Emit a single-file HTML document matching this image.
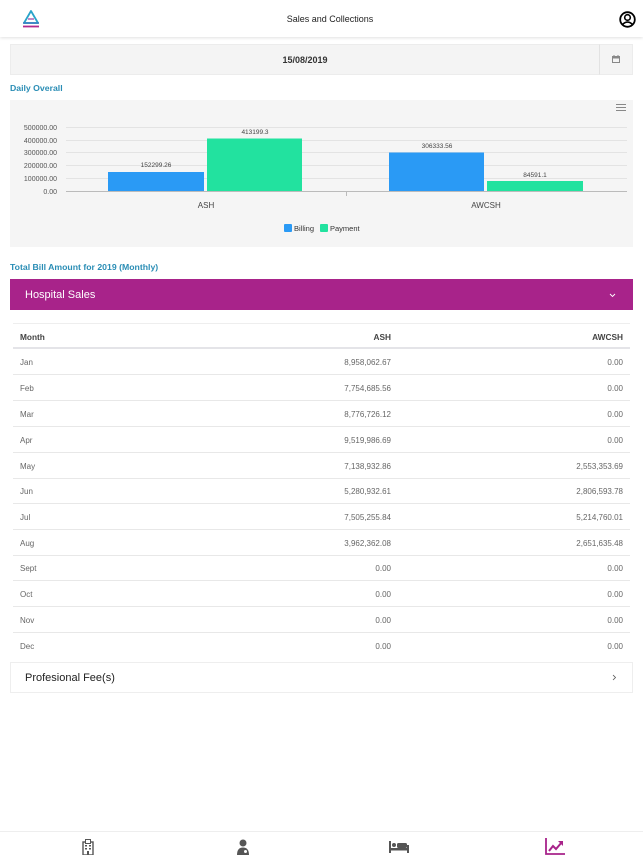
<!DOCTYPE html>
<html><head><meta charset="utf-8">
<style>
*{margin:0;padding:0;box-sizing:border-box}
body{width:643px;height:858px;background:#fff;font-family:"Liberation Sans",sans-serif;position:relative;overflow:hidden;color:#333}
.abs{position:absolute}
.header{left:0;top:0;width:643px;height:37px;background:#fff;box-shadow:0 1px 3px rgba(0,0,0,0.12)}
.title{left:0;width:660px;top:14px;text-align:center;font-size:9px;color:#222}
.datebar{left:10px;top:44px;width:623px;height:31px;background:#f4f4f4;border:1px solid #ececec}
.datetext{left:10px;width:590px;top:55px;text-align:center;font-size:9px;font-weight:bold;color:#333}
.calbtn{left:599px;top:44px;width:34px;height:31px;border-left:1px solid #e2e2e2;border-top:1px solid #ececec;border-right:1px solid #ececec;border-bottom:1px solid #ececec}
.sect{left:10px;font-size:8.7px;font-weight:bold;color:#2a8db5}
.chart{left:10px;top:100px;width:623px;height:147px;background:#f5f5f5}
.purple{left:10px;top:279px;width:623px;height:31px;background:#a8238a}
.purple span{position:absolute;left:15px;top:10px;color:#fff;font-size:11px}
.row{position:absolute;left:13px;width:617px;height:26px;border-bottom:1px solid #e8e8e8;font-size:8px;color:#666}
.row div{position:absolute;top:9px}
.c1{left:7px}
.c2{right:239px}
.c3{right:7px}
.hrow{font-weight:bold;color:#444;border-bottom:2px solid #e4e4e8;font-size:8.3px}
.fee{left:10px;top:662px;width:623px;height:31px;border:1px solid #eee;background:#fff}
.fee span{position:absolute;left:14px;top:9px;font-size:11px;color:#222}
.nav{left:0;top:831px;width:643px;height:27px;border-top:1px solid #eee}
</style></head><body>
<div class="abs header"></div>
<svg class="abs" style="left:20px;top:9px" width="22" height="20" viewBox="0 0 22 20">
<path d="M11 2 L18 14 L4 14 Z" fill="none" stroke="#2aa3c9" stroke-width="1.8" stroke-linejoin="round"/>
<line x1="3" y1="14" x2="19" y2="14" stroke="#3a7fc1" stroke-width="1.6"/>
<line x1="3" y1="17.5" x2="19" y2="17.5" stroke="#b02b8e" stroke-width="1.8"/>
<line x1="8" y1="10" x2="14" y2="10" stroke="#9b3aa0" stroke-width="1.2"/>
</svg>
<div class="abs title">Sales and Collections</div>
<svg class="abs" style="left:619px;top:11px" width="17" height="17" viewBox="0 0 17 17">
<circle cx="8.5" cy="8.5" r="7.3" fill="none" stroke="#000" stroke-width="1.8"/>
<circle cx="8.5" cy="6.5" r="2.8" fill="none" stroke="#000" stroke-width="1.6"/>
<path d="M3.5 13.5 Q8.5 8.5 13.5 13.5" fill="none" stroke="#000" stroke-width="1.6"/>
</svg>
<div class="abs datebar"></div>
<div class="abs datetext">15/08/2019</div>
<div class="abs calbtn"></div>
<svg class="abs" style="left:612px;top:55px" width="8" height="8" viewBox="0 0 8 8">
<rect x="0.5" y="1.5" width="7" height="6" fill="none" stroke="#888" stroke-width="1"/>
<rect x="0.5" y="1.5" width="7" height="2" fill="#888"/>
<line x1="2" y1="0" x2="2" y2="2" stroke="#888"/><line x1="6" y1="0" x2="6" y2="2" stroke="#888"/>
</svg>
<div class="abs sect" style="top:83px">Daily Overall</div>
<div class="abs chart"></div>
<svg class="abs" style="left:0;top:100px" width="643" height="147" viewBox="0 100 643 147" font-family="Liberation Sans, sans-serif">
<g stroke="#888" stroke-width="1"><line x1="616" y1="104.5" x2="626" y2="104.5"/><line x1="616" y1="107.5" x2="626" y2="107.5"/><line x1="616" y1="110.5" x2="626" y2="110.5"/></g>
<g stroke="#e3e3e3" stroke-width="1">
<line x1="66" y1="127.5" x2="627" y2="127.5"/>
<line x1="66" y1="140.5" x2="627" y2="140.5"/>
<line x1="66" y1="152.5" x2="627" y2="152.5"/>
<line x1="66" y1="165.5" x2="627" y2="165.5"/>
<line x1="66" y1="178.5" x2="627" y2="178.5"/>
</g>
<g font-size="7" fill="#555" text-anchor="end">
<text x="57" y="130">500000.00</text>
<text x="57" y="143">400000.00</text>
<text x="57" y="155">300000.00</text>
<text x="57" y="168">200000.00</text>
<text x="57" y="181">100000.00</text>
<text x="57" y="194">0.00</text>
</g>
<rect x="108" y="172" width="96" height="19.5" fill="#2a9af5"/>
<rect x="207" y="138.5" width="95" height="53" fill="#22e29f"/>
<rect x="389" y="152.5" width="95" height="39" fill="#2a9af5"/>
<rect x="487" y="181" width="96" height="10.5" fill="#22e29f"/>
<line x1="66" y1="191.5" x2="627" y2="191.5" stroke="#bbb" stroke-width="1"/>
<line x1="346.5" y1="192" x2="346.5" y2="196" stroke="#bbb" stroke-width="1"/>
<g font-size="6.5" fill="#444" text-anchor="middle">
<text x="156" y="167">152299.26</text>
<text x="255" y="134">413199.3</text>
<text x="437" y="148">306333.56</text>
<text x="535" y="177">84591.1</text>
</g>
<g font-size="8" fill="#444" text-anchor="middle">
<text x="206" y="208">ASH</text>
<text x="486" y="208">AWCSH</text>
</g>
<rect x="284" y="224" width="8" height="8" rx="1" fill="#2a9af5"/>
<text x="294" y="231" font-size="7.5" fill="#333">Billing</text>
<rect x="320" y="224" width="8" height="8" rx="1" fill="#22e29f"/>
<text x="330" y="231" font-size="7.5" fill="#333">Payment</text>
</svg>
<div class="abs sect" style="top:262px">Total Bill Amount for 2019 (Monthly)</div>
<div class="abs purple"><span>Hospital Sales</span></div>
<svg class="abs" style="left:609px;top:293px" width="7" height="5" viewBox="0 0 7 5"><path d="M1 1 L3.5 3.5 L6 1" fill="none" stroke="#fff" stroke-width="0.9"/></svg>
<div class="abs" style="left:13px;top:323px;width:617px;border-top:1px solid #eee"></div>
<div class="row hrow" style="top:323px"><div class="c1">Month</div><div class="c2">ASH</div><div class="c3">AWCSH</div></div>
<div class="row" style="top:349px"><div class="c1">Jan</div><div class="c2">8,958,062.67</div><div class="c3">0.00</div></div>
<div class="row" style="top:375px"><div class="c1">Feb</div><div class="c2">7,754,685.56</div><div class="c3">0.00</div></div>
<div class="row" style="top:401px"><div class="c1">Mar</div><div class="c2">8,776,726.12</div><div class="c3">0.00</div></div>
<div class="row" style="top:427px"><div class="c1">Apr</div><div class="c2">9,519,986.69</div><div class="c3">0.00</div></div>
<div class="row" style="top:453px"><div class="c1">May</div><div class="c2">7,138,932.86</div><div class="c3">2,553,353.69</div></div>
<div class="row" style="top:478px"><div class="c1">Jun</div><div class="c2">5,280,932.61</div><div class="c3">2,806,593.78</div></div>
<div class="row" style="top:504px"><div class="c1">Jul</div><div class="c2">7,505,255.84</div><div class="c3">5,214,760.01</div></div>
<div class="row" style="top:530px"><div class="c1">Aug</div><div class="c2">3,962,362.08</div><div class="c3">2,651,635.48</div></div>
<div class="row" style="top:555px"><div class="c1">Sept</div><div class="c2">0.00</div><div class="c3">0.00</div></div>
<div class="row" style="top:581px"><div class="c1">Oct</div><div class="c2">0.00</div><div class="c3">0.00</div></div>
<div class="row" style="top:607px"><div class="c1">Nov</div><div class="c2">0.00</div><div class="c3">0.00</div></div>
<div class="row" style="top:633px;border-bottom:none"><div class="c1">Dec</div><div class="c2">0.00</div><div class="c3">0.00</div></div>
<div class="abs fee"><span>Profesional Fee(s)</span></div>
<svg class="abs" style="left:612px;top:674px" width="5" height="7" viewBox="0 0 5 7"><path d="M1 1 L3.5 3.5 L1 6" fill="none" stroke="#555" stroke-width="0.8"/></svg>
<div class="abs nav"></div>
<svg class="abs" style="left:81px;top:839px" width="14" height="16" viewBox="0 0 14 16">
<rect x="2" y="3" width="10" height="13" fill="none" stroke="#555" stroke-width="1.4"/>
<rect x="4.5" y="0.5" width="5" height="4" fill="#fff" stroke="#555" stroke-width="1"/>
<g fill="#555"><rect x="4" y="6" width="2" height="1.5"/><rect x="8" y="6" width="2" height="1.5"/><rect x="4" y="9" width="2" height="1.5"/><rect x="8" y="9" width="2" height="1.5"/><rect x="6" y="12" width="2" height="4"/></g>
</svg>
<svg class="abs" style="left:236px;top:839px" width="14" height="16" viewBox="0 0 14 16">
<circle cx="7" cy="4" r="3.5" fill="#555"/>
<path d="M1 16 Q1 8.5 7 8.5 Q13 8.5 13 16 Z" fill="#555"/>
<circle cx="9.5" cy="12.5" r="1.5" fill="#fff"/>
</svg>
<svg class="abs" style="left:389px;top:841px" width="20" height="12" viewBox="0 0 20 12">
<rect x="0" y="0" width="2" height="12" fill="#555"/>
<rect x="0" y="7" width="20" height="2.5" fill="#555"/>
<rect x="18" y="4" width="2" height="8" fill="#555"/>
<circle cx="5" cy="4" r="2" fill="#555"/>
<rect x="8" y="2" width="10" height="5" rx="1.5" fill="#555"/>
</svg>
<svg class="abs" style="left:545px;top:838px" width="20" height="17" viewBox="0 0 20 17">
<path d="M1 0 V16 H20" fill="none" stroke="#a8238a" stroke-width="1.8"/>
<path d="M4 13 L8 8 L11 11 L17 4" fill="none" stroke="#a8238a" stroke-width="2"/>
<path d="M13 3 L18 3 L18 8 Z" fill="#a8238a"/>
</svg>
</body></html>
